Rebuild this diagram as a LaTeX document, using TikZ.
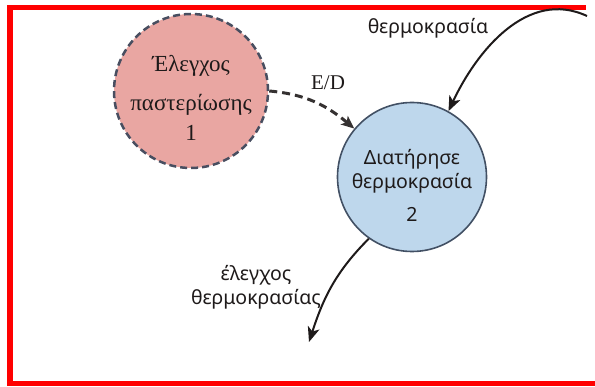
\documentclass[tikz,border=0pt]{standalone}
\usepackage{fontspec}
\setmainfont{Liberation Serif}
\newfontfamily\grsans{Noto Sans}
\usetikzlibrary{arrows.meta}

\definecolor{frame}{RGB}{255,0,0}
\definecolor{pinkfill}{RGB}{233,166,162}
\definecolor{pinkedge}{RGB}{72,78,96}
\definecolor{bluefill}{RGB}{190,215,236}
\definecolor{blueedge}{RGB}{66,80,100}
\definecolor{ink}{RGB}{30,26,26}

\tikzset{
  process/.style={circle, inner sep=0pt},
  serifsize/.style={font=\fontsize{23}{26}\selectfont, text=ink, align=center},
  edsize/.style={font=\fontsize{21}{24}\selectfont, text=ink},
  sanssize/.style={font=\grsans\fontsize{19.5}{24}\selectfont, text=ink, align=center},
  flow/.style={line width=2pt, draw=ink, -{Stealth[length=15pt,width=12pt,inset=4pt]}},
  ctrlflow/.style={line width=3pt, draw=ink!90, dash pattern=on 8pt off 5pt,
    -{Stealth[length=13pt,width=11pt,inset=3pt]}}
}

\begin{document}
\begin{tikzpicture}[x=1pt,y=1pt]
  \useasboundingbox (0,0) rectangle (595,386);
  \fill[white] (0,0) rectangle (595,386);

  % red frame: left, top and bottom edges
  \draw[frame, line width=6pt] (10,2.5) -- (10,381);
  \draw[frame, line width=5pt] (7,378.5) -- (586,378.5);
  \draw[frame, line width=5pt] (7,2.5) -- (595,2.5);

  % control process
  \node[process, minimum size=154pt, fill=pinkfill, draw=pinkedge,
        line width=2.5pt, dash pattern=on 7pt off 4pt] (p1) at (191,295) {};
  \node[serifsize] (p1txt) at (191,288) {Έλεγχος\\[13pt]παστερίωσης\\[4pt]1};

  % data process
  \node[process, minimum size=149pt, fill=bluefill, draw=blueedge,
        line width=1.6pt] (p2) at (412,209) {};
  \node[sanssize] (p2txt) at (412,201) {Διατήρησε\\θερμοκρασία\\[9pt]2};

  % labels
  \node[sanssize] (lin) at (428,358) {θερμοκρασία};
  \node[edsize] (led) at (328,303) {E/D};
  \node[sanssize] (lout) at (256,99) {έλεγχος\\θερμοκρασίας};

  % free ends of the data flows
  \coordinate (tin) at (587,370);
  \coordinate (tout) at (309,44);

  % flows
  \draw[ctrlflow] (p1.east) to[out=-5,in=140] (p2.140);
  \draw[flow] (tin) to[out=155,in=65] (p2.61);
  \draw[flow] (p2.235) to[out=225,in=72] (tout);
\end{tikzpicture}
\end{document}
